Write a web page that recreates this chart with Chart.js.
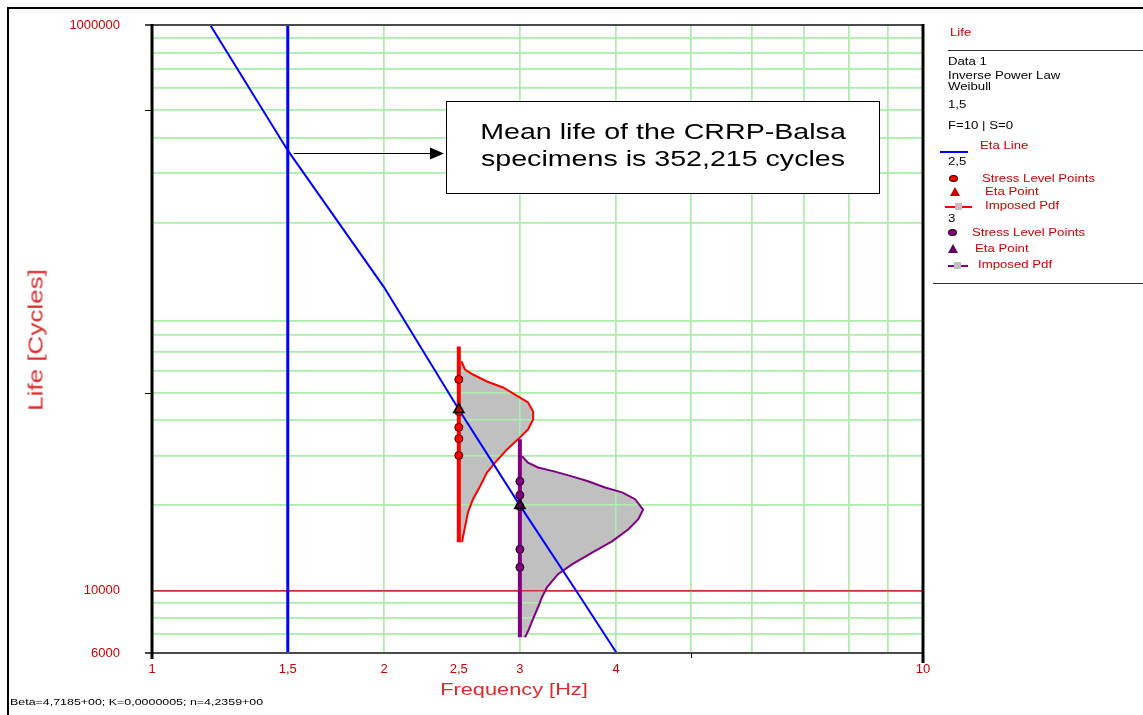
<!DOCTYPE html>
<html>
<head>
<meta charset="utf-8">
<title>Life vs Frequency</title>
<script src="https://cdn.jsdelivr.net/npm/chart.js@4.4.1/dist/chart.umd.min.js"></script>
<style>
  html, body { margin: 0; padding: 0; background: #fff; width: 1143px; height: 715px; overflow: hidden; }
  body { font-family: "Liberation Sans", Arial, sans-serif; }
  #wrap { position: relative; width: 1143px; height: 715px; }
  #frame { position: absolute; left: 7px; top: 7px; width: 1200px; height: 800px; border-left: 2px solid #000; border-top: 2px solid #000; }
  #chart { position: absolute; left: 0; top: 0; }
  .note { position: absolute; left: 446px; top: 101px; width: 432px; height: 91px; border: 1.5px solid #000; background: #fff;
          font-size: 22px; line-height: 26px; text-align: center; color: #000; box-sizing: content-box; }
  .note div { position: absolute; left: 0; right: 0; transform: scaleX(1.3); transform-origin: 50% 50%; white-space: nowrap; }
  .ttl { position: absolute; color: #dd2a2a; white-space: nowrap; }
  .foot { position: absolute; left: 10px; top: 697px; font-size: 9px; color: #000; white-space: nowrap; transform: scaleX(1.38); transform-origin: 0 50%; }
  .lg { position: absolute; font-size: 10px; line-height: 12px; color: #000; white-space: nowrap; transform: scaleX(1.32); transform-origin: 0 50%; }
  .lg.red { color: #cc0000; }
  .hr { position: absolute; height: 0; border-top: 1.5px solid #333; }
  .seg { position: absolute; height: 2px; }
  .dot { position: absolute; width: 9px; height: 7px; border-radius: 50%; border: 1px solid #300; box-sizing: border-box; }
  .tri { position: absolute; width: 0; height: 0; border-left: 5px solid transparent; border-right: 5px solid transparent; }
  .sq { position: absolute; width: 7px; height: 7px; background: #c0c0c0; }
</style>
</head>
<body>
<div id="wrap">
  <div id="frame"></div>
  <canvas id="chart" width="1143" height="715"></canvas>

  <div class="note">
    <div style="top:17px">Mean life of the CRRP-Balsa</div>
    <div style="top:44px">specimens is 352,215 cycles</div>
  </div>

  <div class="ttl" style="left:514px; top:690px; font-size:17px; transform: translate(-50%, -50%) scaleX(1.28);">Frequency [Hz]</div>
  <div class="ttl" style="left:36px; top:340px; font-size:20px; transform: translate(-50%, -50%) rotate(-90deg) scaleX(1.3);">Life [Cycles]</div>
  <div class="foot">Beta=4,7185+00; K=0,0000005; n=4,2359+00</div>

  <!-- legend panel -->
  <div class="lg red" style="left:950px; top:27px;">Life</div>
  <div class="hr" style="left:948px; top:50px; width:195px;"></div>
  <div class="lg" style="left:948px; top:56px;">Data 1</div>
  <div class="lg" style="left:948px; top:70px;">Inverse Power Law</div>
  <div class="lg" style="left:948px; top:81px;">Weibull</div>
  <div class="lg" style="left:948px; top:99px;">1,5</div>
  <div class="lg" style="left:948px; top:120px;">F=10 | S=0</div>
  <div class="seg" style="left:940px; top:151px; width:28px; background:#0000ff;"></div>
  <div class="lg red" style="left:980px; top:140px;">Eta Line</div>
  <div class="lg" style="left:948px; top:156px;">2,5</div>
  <div class="dot" style="left:949px; top:175px; background:#ff0000;"></div>
  <div class="lg red" style="left:982px; top:173px;">Stress Level Points</div>
  <div class="tri" style="left:950px; top:187px; border-bottom:9px solid #cc0000;"></div>
  <div class="lg red" style="left:985px; top:186px;">Eta Point</div>
  <div class="seg" style="left:945px; top:206px; width:27px; background:#ff0000;"></div>
  <div class="sq" style="left:955px; top:203px;"></div>
  <div class="lg red" style="left:985px; top:200px;">Imposed Pdf</div>
  <div class="lg" style="left:948px; top:213px;">3</div>
  <div class="dot" style="left:948px; top:229px; background:#800080;"></div>
  <div class="lg red" style="left:972px; top:227px;">Stress Level Points</div>
  <div class="tri" style="left:948px; top:244px; border-bottom:9px solid #600060;"></div>
  <div class="lg red" style="left:975px; top:243px;">Eta Point</div>
  <div class="seg" style="left:948px; top:265px; width:20px; background:#800080;"></div>
  <div class="sq" style="left:954px; top:262px;"></div>
  <div class="lg red" style="left:978px; top:259px;">Imposed Pdf</div>
  <div class="hr" style="left:933px; top:283px; width:210px;"></div>
</div>

<script>
// ---- axis ranges and ticks ----
const freqRange = [1, 10];
const lifeRange = [6000, 1000000];
const freqTicks = [1, 1.5, 2, 2.5, 3, 4, 5, 6, 7, 8, 9, 10];
const freqTickLabels = ['1', '1,5', '2', '2,5', '3', '4', '', '', '', '', '', '10'];
const freqGridValues = [2, 3, 4, 5, 6, 7, 8, 9];
const lifeTicks = [6000, 7000, 8000, 9000, 10000, 20000, 30000, 40000, 50000, 60000, 70000, 80000, 90000,
                   200000, 300000, 400000, 500000, 600000, 700000, 800000, 900000, 1000000];
const lifeTickLabels = { 6000: '6000', 10000: '10000', 1000000: '1000000' };
const lifeLimit = 10000;

// ---- use stress ----
const useStress = 1.5;
const useStressMeanLife = 352215;

// ---- Eta line (Inverse Power Law fit) ----
const etaFreq = [1.19, 1.5, 2.0, 2.5, 3.0, 3.56, 4.0];
const etaLife = [1000000, 360000, 118000, 43600, 19970, 9840, 6040];

// ---- stress level 2,5 Hz ----
const s1Freq = 2.5;
const s1LineLife = [72800, 14800];
const s1PointLife = [55700, 42900, 37700, 34400, 30000];
const s1EtaLife = 43600;
const s1PdfFreq = [2.5, 2.52, 2.547, 2.608, 2.719, 2.853, 2.983, 3.074, 3.121, 3.121, 3.074, 2.983, 2.887,
                   2.786, 2.719, 2.663, 2.608, 2.570, 2.547, 2.532, 2.524, 2.5];
const s1PdfLife = [64600, 64600, 60400, 58000, 54800, 52200, 48500, 46200, 42900, 40200, 37100, 34200, 31500,
                   28300, 26100, 23300, 21000, 18900, 16800, 15500, 14800, 14800];

// ---- stress level 3 Hz ----
const s2Freq = 3.0;
const s2LineLife = [34200, 6820];
const s2PointLife = [24300, 21700, 19800, 13960, 12060];
const s2EtaLife = 19970;
const s2PdfFreq = [3.0, 3.019, 3.074, 3.167, 3.332, 3.505, 3.678, 3.869, 4.071, 4.233, 4.335, 4.271, 4.145,
                   3.951, 3.722, 3.505, 3.362, 3.253, 3.205, 3.167, 3.111, 3.074, 3.046, 3.0];
const s2PdfLife = [29800, 29800, 28300, 27200, 26300, 25300, 24300, 23100, 22200, 21000, 19300, 17800, 16400,
                   14900, 13600, 12350, 11400, 10250, 9450, 8710, 7770, 7160, 6820, 6820];

const pairs = (xs, ys) => xs.map((x, i) => ({ x, y: ys[i] }));
const column = (x, ys) => ys.map(y => ({ x, y }));

const GRID_GREEN = '#a9efa9';
const RED = '#ff0000';
const PURPLE = '#800080';
const BLUE = '#0000ff';
const FILL_GREY = '#c0c0c0';
const TICK_FONT = { family: 'Liberation Sans, Arial, sans-serif', size: 13 };

const datasets = [
  // pdf areas (drawn first, grid is repainted over them)
  { label: 'fill-2.5', data: pairs(s1PdfFreq, s1PdfLife), showLine: true, fill: 'shape',
    backgroundColor: FILL_GREY, borderWidth: 0, borderColor: 'rgba(0,0,0,0)', pointRadius: 0, order: 10 },
  { label: 'fill-3', data: pairs(s2PdfFreq, s2PdfLife), showLine: true, fill: 'shape',
    backgroundColor: FILL_GREY, borderWidth: 0, borderColor: 'rgba(0,0,0,0)', pointRadius: 0, order: 10 },
  // pdf outlines
  { label: 'pdf-2.5', data: pairs(s1PdfFreq, s1PdfLife).slice(1, -1), showLine: true, fill: false,
    borderColor: RED, borderWidth: 2, pointRadius: 0, order: 6 },
  { label: 'pdf-3', data: pairs(s2PdfFreq, s2PdfLife).slice(1, -1), showLine: true, fill: false,
    borderColor: PURPLE, borderWidth: 2, pointRadius: 0, order: 6 },
  // stress level lines
  { label: 'level-2.5', data: column(s1Freq, s1LineLife), showLine: true, fill: false,
    borderColor: RED, borderWidth: 4, pointRadius: 0, order: 5 },
  { label: 'level-3', data: column(s2Freq, s2LineLife), showLine: true, fill: false,
    borderColor: PURPLE, borderWidth: 4, pointRadius: 0, order: 5 },
  // use stress line
  { label: 'use-stress', data: column(useStress, lifeRange), showLine: true, fill: false,
    borderColor: BLUE, borderWidth: 3, pointRadius: 0, order: 4 },
  // eta line
  { label: 'Eta Line', data: pairs(etaFreq, etaLife), showLine: true, fill: false,
    borderColor: BLUE, borderWidth: 2, pointRadius: 0, order: 3 },
  // stress level points
  { label: 'points-2.5', data: column(s1Freq, s1PointLife), showLine: false,
    pointStyle: 'circle', pointRadius: 4, backgroundColor: RED, borderColor: '#3a0000', borderWidth: 1, order: 2 },
  { label: 'points-3', data: column(s2Freq, s2PointLife), showLine: false,
    pointStyle: 'circle', pointRadius: 4, backgroundColor: PURPLE, borderColor: '#200020', borderWidth: 1, order: 2 },
  // eta points
  { label: 'eta-2.5', data: column(s1Freq, [s1EtaLife]), showLine: false,
    pointStyle: 'triangle', pointRadius: 6, backgroundColor: '#cc0000', borderColor: '#000', borderWidth: 1.5, order: 1 },
  { label: 'eta-3', data: column(s2Freq, [s2EtaLife]), showLine: false,
    pointStyle: 'triangle', pointRadius: 6, backgroundColor: '#500050', borderColor: '#000', borderWidth: 1.5, order: 1 }
];

// repaint the grid once the pdf areas are filled, so it shows through them
const gridOverFill = {
  id: 'gridOverFill',
  beforeDraw(chart) { chart.$gridDone = false; },
  beforeDatasetDraw(chart, args) {
    if (chart.$gridDone) return;
    const ds = chart.data.datasets[args.index];
    if (ds.label.startsWith('fill')) return;
    const ctx = chart.ctx, a = chart.chartArea;
    ctx.save();
    ctx.beginPath();
    ctx.rect(a.left, a.top, a.right - a.left, a.bottom - a.top);
    ctx.clip();
    chart.scales.x.drawGrid(a);
    chart.scales.y.drawGrid(a);
    ctx.restore();
    chart.$gridDone = true;
  }
};

// plot frame, small ticks and the call-out arrow
const frameAndArrow = {
  id: 'frameAndArrow',
  afterDraw(chart) {
    const ctx = chart.ctx, a = chart.chartArea;
    const xs = chart.scales.x, ys = chart.scales.y;
    ctx.save();
    // top and bottom rules
    ctx.strokeStyle = '#4a4a4a';
    ctx.lineWidth = 2;
    ctx.beginPath();
    ctx.moveTo(a.left - 7, a.top); ctx.lineTo(a.right, a.top);
    ctx.moveTo(a.left - 7, a.bottom); ctx.lineTo(a.right, a.bottom);
    ctx.stroke();
    // left and right rules
    ctx.strokeStyle = '#000';
    ctx.lineWidth = 3;
    ctx.beginPath();
    ctx.moveTo(a.left, a.top - 1); ctx.lineTo(a.left, a.bottom + 6);
    ctx.moveTo(a.right, a.top - 1); ctx.lineTo(a.right, a.bottom + 10);
    ctx.stroke();
    // minor marks on the life axis
    ctx.lineWidth = 1;
    ctx.beginPath();
    [500000, 50000].forEach(v => {
      const y = Math.round(ys.getPixelForValue(v)) + 0.5;
      ctx.moveTo(a.left - 7, y); ctx.lineTo(a.left, y);
    });
    const x5 = Math.round(xs.getPixelForValue(5)) + 0.5;
    ctx.moveTo(x5, a.bottom); ctx.lineTo(x5, a.bottom + 5);
    ctx.stroke();
    // arrow from the mean life at use stress to the note
    const ax = xs.getPixelForValue(useStress) + 6;
    const ay = Math.round(ys.getPixelForValue(useStressMeanLife)) + 0.5;
    const tip = 444;
    ctx.strokeStyle = '#000';
    ctx.fillStyle = '#000';
    ctx.lineWidth = 1.2;
    ctx.beginPath();
    ctx.moveTo(ax, ay); ctx.lineTo(tip - 12, ay);
    ctx.stroke();
    ctx.beginPath();
    ctx.moveTo(tip, ay); ctx.lineTo(tip - 14, ay - 6); ctx.lineTo(tip - 14, ay + 6); ctx.closePath();
    ctx.fill();
    ctx.restore();
  }
};

new Chart(document.getElementById('chart'), {
  type: 'line',
  data: { datasets },
  plugins: [gridOverFill, frameAndArrow],
  options: {
    responsive: false,
    animation: false,
    devicePixelRatio: 1,
    layout: { padding: { left: 0, right: 220, top: 25, bottom: 0 } },
    plugins: { legend: { display: false }, tooltip: { enabled: false }, title: { display: false } },
    scales: {
      x: {
        type: 'logarithmic',
        min: freqRange[0], max: freqRange[1],
        afterBuildTicks: s => { s.ticks = freqTicks.map(v => ({ value: v })); },
        afterFit: s => { s.height = 62; s.paddingLeft = 0; s.paddingRight = 0; },
        border: { display: false },
        grid: {
          drawTicks: false,
          lineWidth: 1.5,
          color: c => (c.tick && freqGridValues.includes(c.tick.value)) ? GRID_GREEN : 'rgba(0,0,0,0)'
        },
        ticks: {
          autoSkip: false, maxRotation: 0, padding: 9,
          color: '#cc0000', font: TICK_FONT,
          callback: v => { const i = freqTicks.indexOf(v); return i >= 0 ? freqTickLabels[i] : ''; }
        }
      },
      y: {
        type: 'logarithmic',
        min: lifeRange[0], max: lifeRange[1],
        afterBuildTicks: s => { s.ticks = lifeTicks.map(v => ({ value: v })); },
        afterFit: s => { s.width = 152; s.paddingTop = 0; s.paddingBottom = 0; },
        border: { display: false },
        grid: {
          drawTicks: false,
          lineWidth: 1.5,
          color: c => {
            if (!c.tick) return 'rgba(0,0,0,0)';
            const v = c.tick.value;
            if (v === lifeLimit) return '#d03030';
            if (v === lifeRange[0] || v === lifeRange[1]) return 'rgba(0,0,0,0)';
            return GRID_GREEN;
          }
        },
        ticks: {
          autoSkip: false, padding: 32,
          color: '#cc0000', font: TICK_FONT,
          callback: v => lifeTickLabels[v] || ''
        }
      }
    }
  }
});
</script>
</body>
</html>
